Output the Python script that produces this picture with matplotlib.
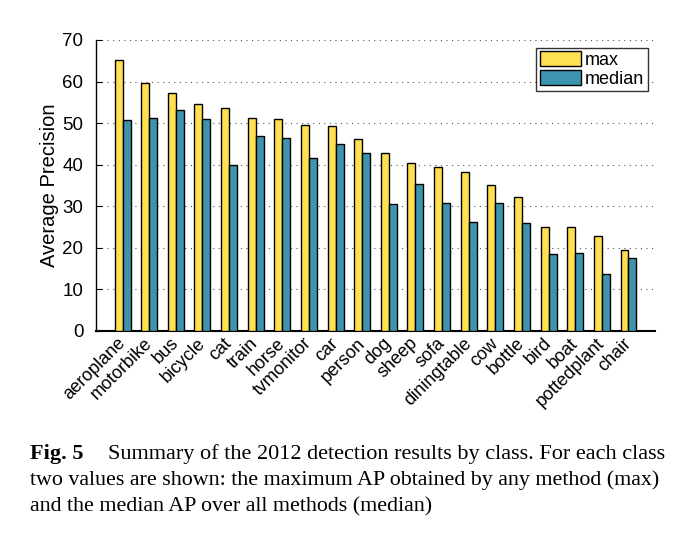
import numpy as np
import matplotlib
matplotlib.use("Agg")
import matplotlib.pyplot as plt

# PASCAL VOC 2012 detection results per class
classes = ["aeroplane", "motorbike", "bus", "bicycle", "cat", "train", "horse",
           "tvmonitor", "car", "person", "dog", "sheep", "sofa", "diningtable",
           "cow", "bottle", "bird", "boat", "pottedplant", "chair"]
ap_max = [65.1, 59.6, 57.2, 54.5, 53.6, 51.2, 50.9, 49.6, 49.3, 46.2,
          42.8, 40.3, 39.5, 38.3, 35.2, 32.2, 24.9, 24.9, 22.8, 19.5]
ap_median = [50.8, 51.2, 53.1, 51.0, 39.8, 46.9, 46.4, 41.5, 44.9, 42.7,
             30.5, 35.4, 30.9, 26.3, 30.8, 25.9, 18.4, 18.8, 13.6, 17.5]
yticks = [0, 10, 20, 30, 40, 50, 60, 70]

plt.rcParams['font.family'] = ['Liberation Sans', 'DejaVu Sans']

fig = plt.figure(figsize=(6.92, 5.36), dpi=100)
ax = fig.add_axes([0.1387, 0.3825, 0.808, 0.543])

x = np.arange(len(classes))
w = 0.3
ax.bar(x - w / 2, ap_max, w, color='#FFE050', edgecolor='black', linewidth=1.0,
       label='max', zorder=3)
ax.bar(x + w / 2, ap_median, w, color='#3C94AE', edgecolor='black', linewidth=1.0,
       label='median', zorder=3)

ax.set_xlim(-1, len(classes))
ax.set_ylim(0, 70)
ax.set_yticks(yticks)
ax.set_xticks(x)
ax.set_xticklabels(classes, rotation=45, ha='right', va='center',
                   rotation_mode='anchor', fontsize=13)
ax.tick_params(axis='y', direction='in', length=4, labelsize=13.5, pad=9)
ax.tick_params(axis='x', length=0, pad=7)
ax.set_ylabel('Average Precision', fontsize=14.5, labelpad=2.5)

for s in ['top', 'right']:
    ax.spines[s].set_visible(False)
ax.spines['left'].set_linewidth(1.0)
ax.spines['bottom'].set_linewidth(1.5)
ax.yaxis.grid(True, linestyle=(0, (1, 4)), color='#555555', linewidth=0.8, zorder=0)
ax.set_axisbelow(True)

leg = ax.legend(loc='upper right', bbox_to_anchor=(0.99, 0.98), fontsize=13,
                frameon=True, fancybox=False, edgecolor='black',
                handlelength=2.3, handleheight=0.85, handletextpad=0.2,
                borderpad=0.2, labelspacing=0.1, borderaxespad=0.1)
leg.get_frame().set_linewidth(1.0)

cap_font = ['Liberation Serif', 'DejaVu Serif']
fig.text(0.0434, 0.1437, 'Fig. 5', family=cap_font, fontweight='bold', fontsize=16, va='baseline')
fig.text(0.156, 0.1437, 'Summary of the 2012 detection results by class. For each class',
         family=cap_font, fontsize=16, va='baseline')
fig.text(0.0434, 0.0951, 'two values are shown: the maximum AP obtained by any method (max)',
         family=cap_font, fontsize=15.8, va='baseline')
fig.text(0.0434, 0.0466, 'and the median AP over all methods (median)',
         family=cap_font, fontsize=15.8, va='baseline')

fig.savefig('out.png', dpi=100)
